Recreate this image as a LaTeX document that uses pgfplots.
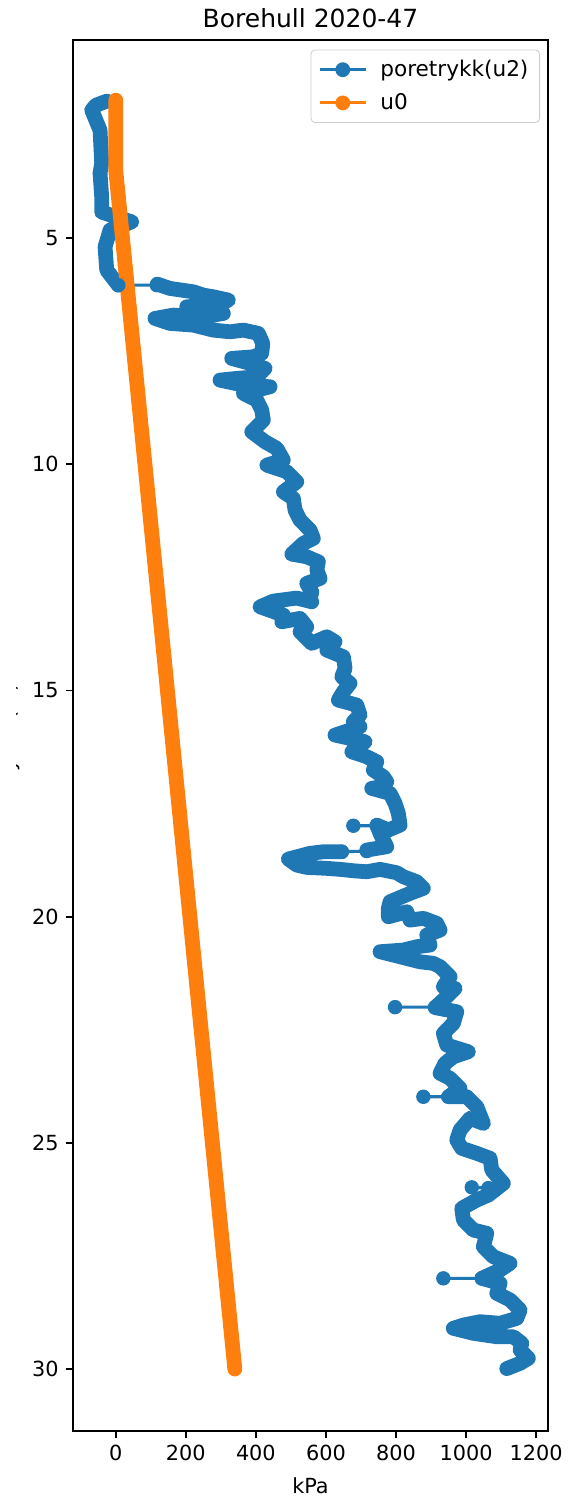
\documentclass[border=0pt]{standalone}
\usepackage{fontspec}
\setmainfont{DejaVu Sans}
\usepackage{pgfplots}
\usepackage{pgfplotstable}
\pgfplotsset{compat=1.18}
\definecolor{C0}{HTML}{1F77B4}
\definecolor{C1}{HTML}{FF7F0E}

% main pore pressure trace (kPa, depth m); nan = break
\pgfplotstableread{
x y
-25.7 1.972
-56.2 2.060
-68.5 2.171
-44.8 2.613
-40.0 3.342
-44.8 3.563
-40.0 4.094
-40.0 4.425
45.7 4.640
-16.3 4.823
-30.5 5.192
-25.7 5.707
7.4 6.039
nan nan
118.8 6.017
155.0 6.112
221.5 6.187
250.1 6.260
278.6 6.297
321.5 6.370
288.4 6.481
202.7 6.518
307.2 6.664
250.1 6.740
164.4 6.702
112.2 6.775
155.0 6.885
221.5 6.923
278.6 7.033
326.3 7.071
364.3 7.033
407.1 7.106
419.7 7.328
416.8 7.549
392.8 7.624
331.2 7.659
383.4 7.769
426.3 7.880
402.6 8.066
345.5 8.101
297.8 8.139
364.3 8.249
440.5 8.286
364.3 8.432
402.6 8.580
416.8 8.802
421.4 9.023
388.3 9.281
426.3 9.502
459.7 9.648
478.5 9.907
431.1 10.017
488.2 10.165
516.8 10.387
478.5 10.608
507.0 10.753
511.9 11.012
526.2 11.233
554.7 11.454
564.1 11.638
535.6 11.748
502.5 11.985
545.3 12.044
578.4 12.155
573.9 12.338
583.3 12.522
545.3 12.632
559.6 12.818
554.7 13.001
559.6 13.039
516.8 12.957
449.9 13.024
412.0 13.150
478.5 13.333
473.9 13.481
526.2 13.406
545.3 13.592
526.2 13.702
559.6 13.959
602.4 13.813
626.1 13.923
602.4 14.107
649.8 14.255
654.7 14.511
645.2 14.697
668.9 14.843
649.8 15.028
635.5 15.212
688.1 15.322
697.5 15.543
678.3 15.691
697.5 15.802
626.1 15.985
668.9 16.059
711.8 16.134
673.8 16.355
716.6 16.465
745.2 16.576
735.4 16.759
764.0 16.907
773.7 17.018
754.6 17.129
730.9 17.164
783.1 17.275
797.4 17.495
806.8 17.716
811.7 17.975
778.3 18.085
745.2 17.975
754.6 18.158
773.7 18.454
716.6 18.527
nan nan
645.2 18.565
592.7 18.565
554.7 18.600
492.8 18.726
516.8 18.859
545.3 18.910
602.4 18.932
640.4 18.954
678.3 18.985
716.6 19.007
754.6 18.954
802.3 19.029
821.1 19.118
859.4 19.228
878.2 19.374
840.2 19.484
783.1 19.670
778.3 19.816
778.3 20.002
830.8 19.892
840.2 20.075
878.2 20.037
916.5 20.148
925.9 20.296
887.9 20.406
897.3 20.627
859.4 20.665
821.1 20.738
754.6 20.775
811.7 20.886
868.8 20.997
906.7 21.032
925.9 21.107
954.4 21.328
935.3 21.549
968.7 21.585
945.0 21.770
911.6 22.010
973.6 22.102
963.8 22.358
935.3 22.580
945.0 22.838
1006.7 22.986
963.8 23.097
940.1 23.243
925.9 23.463
954.4 23.574
983.0 23.795
949.6 23.981
1002.1 23.981
1030.7 24.202
1049.5 24.569
1011.5 24.458
983.0 24.716
973.6 24.938
987.8 25.121
1030.7 25.232
1068.6 25.342
1073.5 25.601
1106.6 25.895
1063.8 26.154
1030.7 26.264
987.8 26.447
992.4 26.706
1020.9 26.927
1059.2 27.000
1049.5 27.296
1078.0 27.517
1125.7 27.663
1097.2 27.811
1044.9 27.995
1097.2 28.105
1087.8 28.326
1125.7 28.474
1154.3 28.695
1144.9 28.879
1097.2 28.989
1040.1 28.954
992.4 29.027
963.8 29.100
1020.9 29.210
1087.8 29.286
1135.1 29.286
1159.1 29.431
1154.3 29.579
1178.0 29.763
1154.3 29.873
1116.3 29.990
}\trace

% isolated readings joined by thin lines
\pgfplotstableread{
x y
7.4 6.039
117.1 6.039
nan nan
745.2 17.990
678.3 17.990
nan nan
716.6 18.550
645.2 18.565
nan nan
911.6 22.000
797.4 22.000
nan nan
949.6 23.981
878.2 23.981
nan nan
1063.8 26.000
1016.4 25.983
nan nan
1044.9 27.995
935.3 27.995
}\spikes

% hydrostatic pore pressure u0
\pgfplotstableread{
x y
0 1.95
0 3.50
340 30.0
}\uzero

\begin{document}
\begin{tikzpicture}
\begin{axis}[
  at={(0,0)}, anchor=south west,
  scale only axis, width=237.5pt, height=695.5pt,
  xmin=-122, xmax=1234, ymin=0.62, ymax=31.37,
  y dir=reverse,
  xtick={0,200,400,600,800,1000,1200},
  ytick={5,10,15,20,25,30},
  /pgf/number format/1000 sep={},
  /pgf/number format/assume math mode=true,
  tick label style={font=\fontsize{10.4}{12.5}\selectfont},
  tick align=outside, tick pos=left,
  major tick length=3.64pt,
  every tick/.style={black, line width=0.83pt},
  axis line style={line width=0.83pt},
  xlabel={kPa},
  xlabel style={at={(axis description cs:0.5,0)}, anchor=base, yshift=-31.3pt, font=\fontsize{10.4}{12.5}\selectfont},
  unbounded coords=jump,
  legend style={at={(1,1)}, anchor=north east, xshift=-4pt, yshift=-4.8pt,
    draw=black!20, rounded corners=2pt, fill=white,
    font=\fontsize{10.8}{13}\selectfont, row sep=3pt, inner xsep=3.6pt, inner ysep=3pt,
    /tikz/every odd column/.append style={column sep=4.5pt}},
  legend cell align=left,
  legend image code/.code={\draw[mark repeat=2,mark phase=2,#1] plot coordinates {(0pt,0pt) (11.5pt,0pt) (23pt,0pt)};},
]
\addlegendimage{C0, line width=1.56pt, mark=*, mark size=3.4pt, mark options={line width=0.6pt}}
\addlegendentry{poretrykk(u2)}
\addlegendimage{C1, line width=1.56pt, mark=*, mark size=3.4pt, mark options={line width=0.6pt}}
\addlegendentry{u0}
\addplot[forget plot, C0, line width=1.56pt, mark=*, mark size=3.3pt, mark options={line width=0.6pt}] table[x=x,y=y] {\spikes};
\addplot[forget plot, C0, line width=7.4pt, line join=round, line cap=round] table[x=x,y=y] {\trace};
\addplot[forget plot, C1, line width=7.4pt, line join=round, line cap=round] table[x=x,y=y] {\uzero};
\end{axis}
\node[anchor=base, font=\fontsize{12.5}{15}\selectfont, inner sep=0pt] at (118.75pt,701.8pt) {Borehull 2020-47};
\begin{scope}
\clip (-28.5pt,0pt) rectangle (0pt,695.5pt);
\node[rotate=90, anchor=base, font=\fontsize{10.4}{12.5}\selectfont, inner sep=0pt] at (-28.5pt,347.75pt) {Dybde(m)};
\end{scope}
\pgfresetboundingbox
\path (-36.5pt,-36pt) rectangle (249.5pt,715.5pt);
\end{tikzpicture}
\end{document}
